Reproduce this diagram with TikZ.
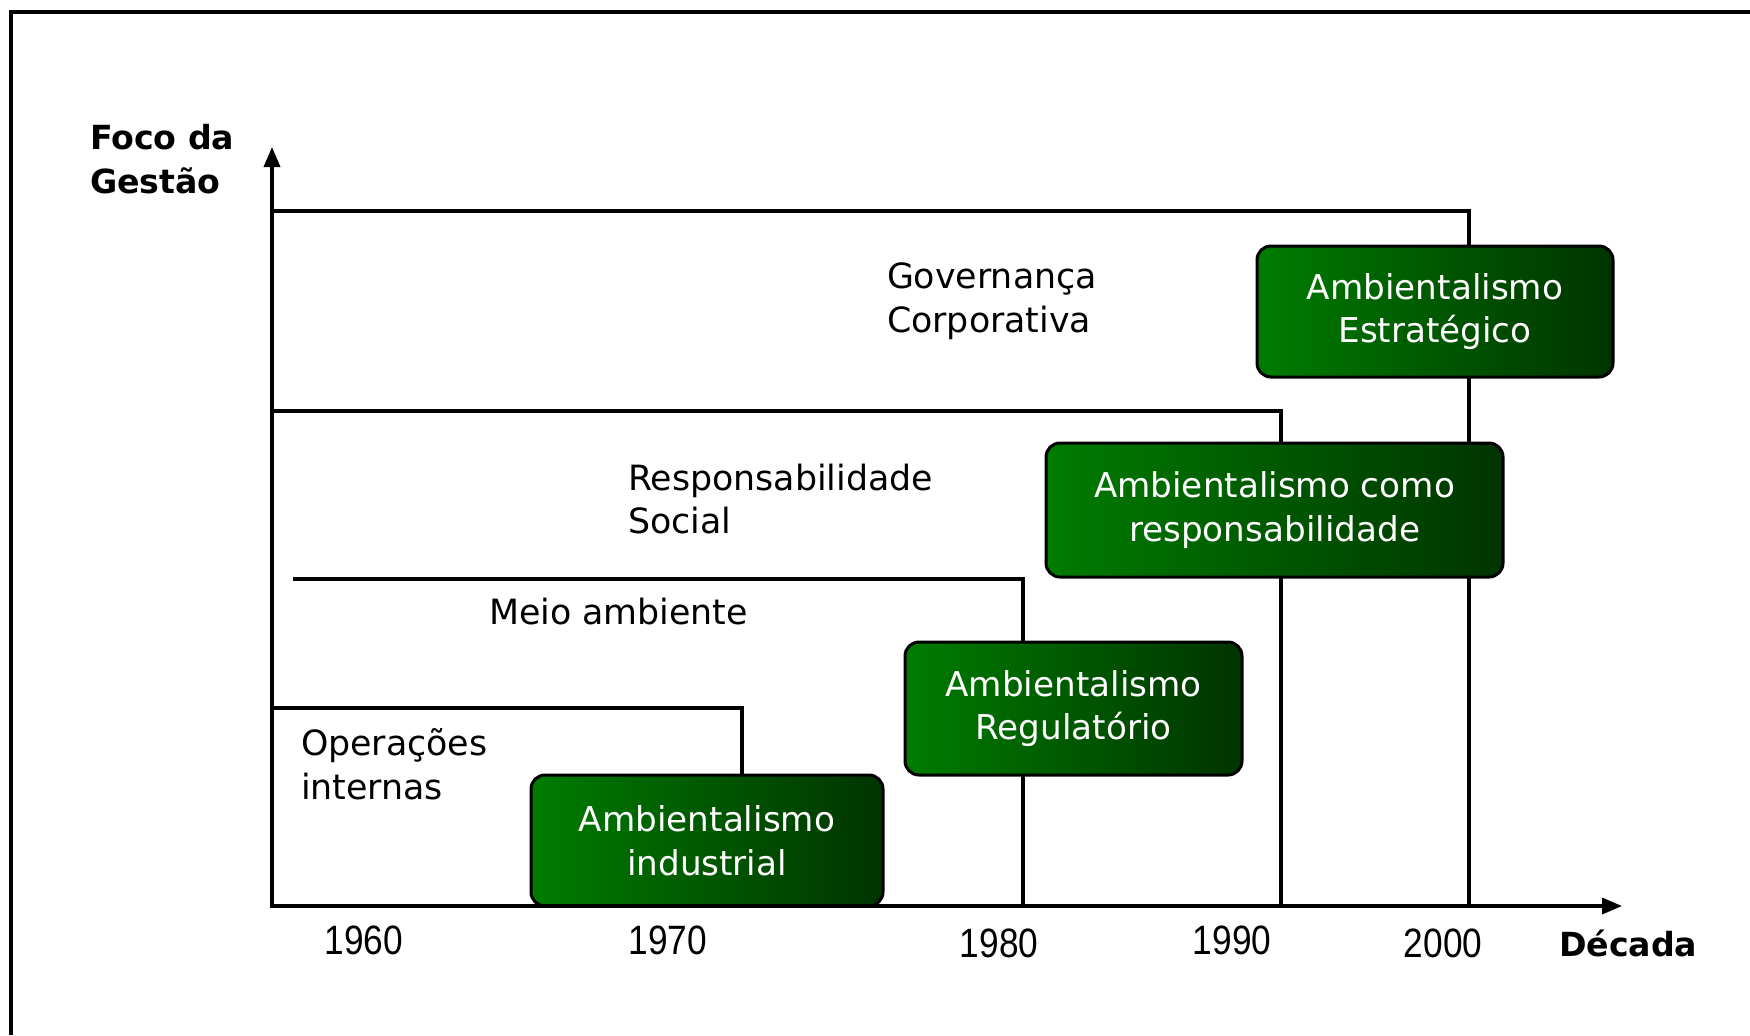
\documentclass[tikz,border=0pt]{standalone}
\usepackage{fontspec}
\setmainfont{DejaVu Sans}
\newfontfamily\yearfont[FakeStretch=0.86]{Liberation Sans}
\usetikzlibrary{arrows.meta}
\pgfdeclarelayer{bg}
\pgfsetlayers{bg,main}
\definecolor{boxL}{RGB}{0,124,0}
\definecolor{boxR}{RGB}{0,52,0}
\begin{document}
\begin{tikzpicture}[x=0.5pt,y=-0.5pt,
  every node/.style={inner sep=0pt, outer sep=0pt},
  lbl/.style={font=\fontsize{17.4}{21.75}\selectfont, align=left, anchor=west},
  boldlbl/.style={font=\fontsize{16.6}{22}\selectfont\bfseries, align=left, anchor=west},
  yr/.style={font=\yearfont\fontsize{20.5}{22}\selectfont},
  gbox/.style={draw=black, line width=1.5pt, rounded corners=7pt, left color=boxL, right color=boxR, text=white, align=center, font=\fontsize{17.1}{21.75}\selectfont},
  axisline/.style={line width=1.8pt, {Triangle[length=10pt,width=8pt]}-{Triangle[length=10pt,width=8pt]}},
  bracket/.style={line width=1.7pt}]
\useasboundingbox (0,0) rectangle (1750,1035);
\begin{pgfonlayer}{bg}
\fill[white] (0,0) rectangle (1750,1035);
\end{pgfonlayer}
% frame
\coordinate (fr1) at (1750,12);
\coordinate (fr2) at (11,12);
\coordinate (fr3) at (11,1035);
\draw[line width=1.9pt] (fr1) -- (fr2) -- (fr3);

% boxes
\node[gbox, minimum width=176pt, minimum height=65.5pt] (b1) at (707,840.5) {Ambientalismo\\industrial};
\node[gbox, minimum width=168.5pt, minimum height=66.5pt] (b2) at (1073.5,708.5) {Ambientalismo\\Regulatório};
\node[gbox, minimum width=228.5pt, minimum height=67pt] (b3) at (1274.5,510) {Ambientalismo como\\responsabilidade};
\node[gbox, minimum width=178pt, minimum height=65.5pt] (b4) at (1435,311.5) {Ambientalismo\\Estratégico};

% axes
\coordinate (O) at (272,906);
\coordinate (ytip) at (272,147);
\coordinate (xtip) at (1622,906);

% brackets
\coordinate (g1) at (272,211);
\coordinate (g2) at (1469,211);
\coordinate (g3) at (1469,906);
\coordinate (r1) at (272,411);
\coordinate (r2) at (1281,411);
\coordinate (r3) at (1281,906);
\coordinate (m1) at (293,579);
\coordinate (m2) at (1023,579);
\coordinate (m3) at (1023,906);
\coordinate (o1) at (272,708);
\coordinate (o2) at (742,708);
\begin{pgfonlayer}{bg}
\draw[bracket] (g1) -- (g2) -- (g3);
\draw[bracket] (r1) -- (r2) -- (r3);
\draw[bracket] (m1) -- (m2) -- (m3);
\draw[bracket] (o1) -- (o2) -- (b1.north -| o2);
\end{pgfonlayer}
\draw[axisline] (ytip) -- (O) -- (xtip);

% labels
\node[lbl] (gov) at (887,301) {Governança\\Corporativa};
\node[lbl] (resp) at (628,499) {Responsabilidade\\Social};
\node[lbl] (meio) at (489,612) {Meio ambiente};
\node[lbl] (oper) at (301,764) {Operações\\internas};
\node[boldlbl] (foco) at (90,159) {Foco da\\Gestão};
\node[boldlbl] (dec) at (1559,943) {Década};

% years
\node[yr] (y60) at (364,940) {1960};
\node[yr] (y70) at (668,940) {1970};
\node[yr] (y80) at (999,943) {1980};
\node[yr] (y90) at (1232,940) {1990};
\node[yr] (y00) at (1443,943) {2000};
\end{tikzpicture}
\end{document}
